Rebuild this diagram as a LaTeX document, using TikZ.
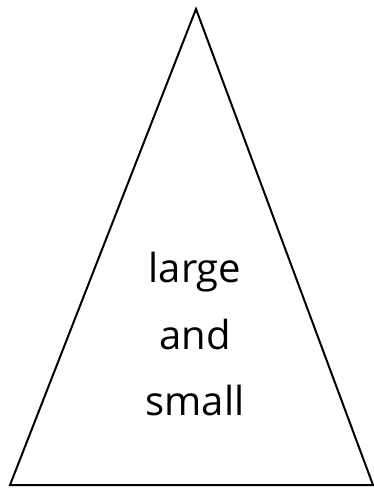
\documentclass[tikz,border=0pt]{standalone}
\usepackage{fontspec}
\setmainfont{Open Sans}
\usepackage{tikz}
\usetikzlibrary{positioning}

\begin{document}
\begin{tikzpicture}[
    x=1pt, y=-1pt,
    edge/.style={
        draw=black,
        line width=2pt,
        line join=miter
    },
    caption/.style={
        align=center,
        font=\fontsize{40}{66.5}\selectfont,
        inner sep=0pt
    }
]
\useasboundingbox (0,0) rectangle (374,490);

% The triangle
\coordinate (top) at (196,9);
\coordinate (left) at (10,485);
\coordinate (right) at (373,485);
\draw[edge] (top) -- (right) -- (left) -- cycle;

\node[caption] (words) at (195,334) {large\\and\\small};

\end{tikzpicture}
\end{document}
